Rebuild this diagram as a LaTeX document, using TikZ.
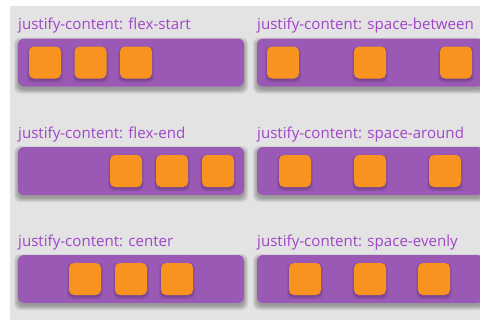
\documentclass[tikz,border=0pt]{standalone}
\usepackage{fontspec}
\setmainfont{Open Sans}
\usetikzlibrary{backgrounds}
\definecolor{pagegray}{HTML}{E3E3E3}
\definecolor{boxpurple}{HTML}{9B59B6}
\definecolor{itemorange}{HTML}{F7931E}
\definecolor{labelpurple}{HTML}{A044C8}
\tikzset{
  flexbox/.style={fill=boxpurple, rounded corners=6pt, minimum width=226pt,
    minimum height=48pt, inner sep=0pt, outer sep=0pt},
  item/.style={fill=itemorange, rounded corners=5pt, minimum width=32pt,
    minimum height=32pt, inner sep=0pt, outer sep=0pt},
  caption/.style={anchor=base west, inner sep=0pt, text=labelpurple,
    font=\fontsize{15.1pt}{18pt}\selectfont}
}
% soft shadow under a node: layered translucent rounded rectangles
\newcommand\softshade[5]{% node, drop, list of spreads, opacity, radius
  \foreach \e in {#3}
    \fill[black, fill opacity=#4, rounded corners=#5]
      ([shift={(-\e,#2-\e)}]#1.north west) rectangle ([shift={(\e,#2+\e)}]#1.south east);
}
% one flex item with its shadow
\newcommand\flexitem[3]{% name, x, y
  \coordinate (#1c) at (#2,#3);
  \foreach \e in {2,1,0}
    \fill[black, fill opacity=0.07, rounded corners=5pt]
      ([shift={(-16-\e,-14-\e)}]#1c) rectangle ([shift={(16+\e,18+\e)}]#1c);
  \node[item] (#1) at (#1c) {};
}
\begin{document}
\begin{tikzpicture}[x=1pt,y=-1pt]
  \useasboundingbox (0,0) rectangle (480,324);

  % captions
  \node[caption] (l1) at (18,29) {justify-content: flex-start};
  \node[caption] (r1) at (257,29) {justify-content: space-between};
  \node[caption] (l2) at (18,138) {justify-content: flex-end};
  \node[caption] (r2) at (257,138) {justify-content: space-around};
  \node[caption] (l3) at (18,246) {justify-content: center};
  \node[caption] (r3) at (257,246) {justify-content: space-evenly};

  % containers
  \node[flexbox] (bl1) at (131,62.5) {};
  \node[flexbox] (br1) at (370,62.5) {};
  \node[flexbox] (bl2) at (131,171) {};
  \node[flexbox] (br2) at (370,171) {};
  \node[flexbox] (bl3) at (131,279) {};
  \node[flexbox] (br3) at (370,279) {};

  % flex-start
  \foreach \x [count=\i] in {45,90.5,136} {\flexitem{sl\i}{\x}{62.5}}
  % space-between
  \foreach \x [count=\i] in {283,370,456} {\flexitem{sb\i}{\x}{62.5}}
  % flex-end
  \foreach \x [count=\i] in {126,172,218} {\flexitem{fe\i}{\x}{171}}
  % space-around
  \foreach \x [count=\i] in {295,370,445} {\flexitem{sa\i}{\x}{171}}
  % center
  \foreach \x [count=\i] in {85,131,177} {\flexitem{ce\i}{\x}{279}}
  % space-evenly
  \foreach \x [count=\i] in {305,370,434} {\flexitem{se\i}{\x}{279}}

  \begin{pgfonlayer}{background}
    \fill[white] (0,0) rectangle (480,324);
    \fill[pagegray] (10,6) rectangle (480,320);
    \foreach \n in {bl1,br1,bl2,br2,bl3,br3}
      \softshade{\n}{3}{4,3,2,1,0}{0.07}{6pt};
  \end{pgfonlayer}
\end{tikzpicture}
\end{document}
